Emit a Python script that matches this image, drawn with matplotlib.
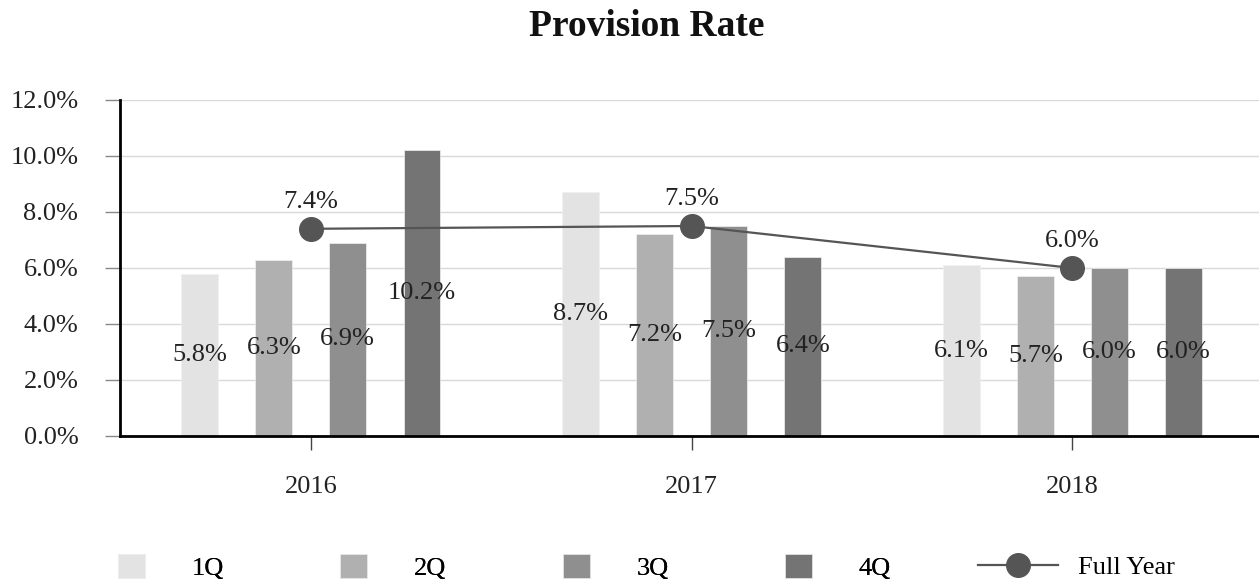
import matplotlib
matplotlib.use("Agg")
import matplotlib.pyplot as plt
import numpy as np

years = ["2016", "2017", "2018"]
quarters = ["1Q", "2Q", "3Q", "4Q"]
q_values = [
    [5.8, 8.7, 6.1],   # 1Q
    [6.3, 7.2, 5.7],   # 2Q
    [6.9, 7.5, 6.0],   # 3Q
    [10.2, 6.4, 6.0],  # 4Q
]
full_year = [7.4, 7.5, 6.0]
y_ticks = [0, 2, 4, 6, 8, 10, 12]

bar_colors = ["#e3e3e3", "#b0b0b0", "#8f8f8f", "#747474"]
line_color = "#555555"

plt.rcParams["font.family"] = ["Liberation Serif", "DejaVu Serif"]
FS = 19

W, H = 1259, 581
fig = plt.figure(figsize=(W / 100, H / 100), dpi=100)
ax = fig.add_axes([120 / W, 1 - 436 / H, (W - 120) / W, (436 - 100) / H])

x = np.arange(len(years))
width = 0.097
offsets = [-0.292, -0.097, 0.097, 0.292]
bar_handles = []
for i, q in enumerate(quarters):
    bars = ax.bar(x + offsets[i], q_values[i], width, color=bar_colors[i],
                  label=q, zorder=2, edgecolor="#f0f0f0", linewidth=0.5)
    bar_handles.append(bars)
    for xi, v in zip(x + offsets[i], q_values[i]):
        ax.text(xi, v / 2, f"{v:.1f}%", ha="center", va="center",
                fontsize=FS, color="#222222", zorder=4)

line, = ax.plot(x, full_year, color=line_color, lw=1.6, marker="o",
                markersize=17, zorder=5, label="Full Year")
for xi, v in zip(x, full_year):
    ax.annotate(f"{v:.1f}%", (xi, v), xytext=(0, 19.5), textcoords="offset points",
                ha="center", va="center", fontsize=FS, color="#222222", zorder=6)

ax.set_xlim(-0.501, 2.49)
ax.set_ylim(0, 12)
ax.set_yticks(y_ticks)
ax.set_yticklabels([f"{t:.1f}%" for t in y_ticks], fontsize=FS, color="#222222")
ax.set_xticks(x)
ax.set_xticklabels(years, fontsize=FS, color="#222222")
ax.yaxis.grid(True, color="#d9d9d9", lw=1, zorder=0)
ax.set_axisbelow(True)
for s in ["top", "right"]:
    ax.spines[s].set_visible(False)
for s in ["left", "bottom"]:
    ax.spines[s].set_color("black")
    ax.spines[s].set_linewidth(2)
    ax.spines[s].set_zorder(7)
ax.tick_params(axis="y", length=11, width=1, color="#888888", pad=19)
ax.tick_params(axis="x", length=10, width=1, color="#444444", pad=19)

fig.text(647 / W, 1 - 27 / H, "Provision Rate", ha="center", va="center",
         fontsize=27, fontweight="bold", color="#111111")

leg1 = fig.legend(handles=bar_handles, labels=quarters, ncol=4, frameon=False,
                  loc="center left", bbox_to_anchor=(118 / W, 1 - 567 / H),
                  bbox_transform=fig.transFigure, fontsize=FS,
                  handlelength=1.02, handleheight=1.02, handletextpad=1.78,
                  columnspacing=4.4, borderpad=0, borderaxespad=0)
fig.add_artist(leg1)
leg2 = fig.legend(handles=[line], labels=["Full Year"], frameon=False,
                  loc="center left", bbox_to_anchor=(978 / W, 1 - 567 / H),
                  bbox_transform=fig.transFigure, fontsize=FS,
                  handlelength=3.03, handletextpad=0.76, borderpad=0,
                  borderaxespad=0)

fig.savefig("out.png", dpi=100)
